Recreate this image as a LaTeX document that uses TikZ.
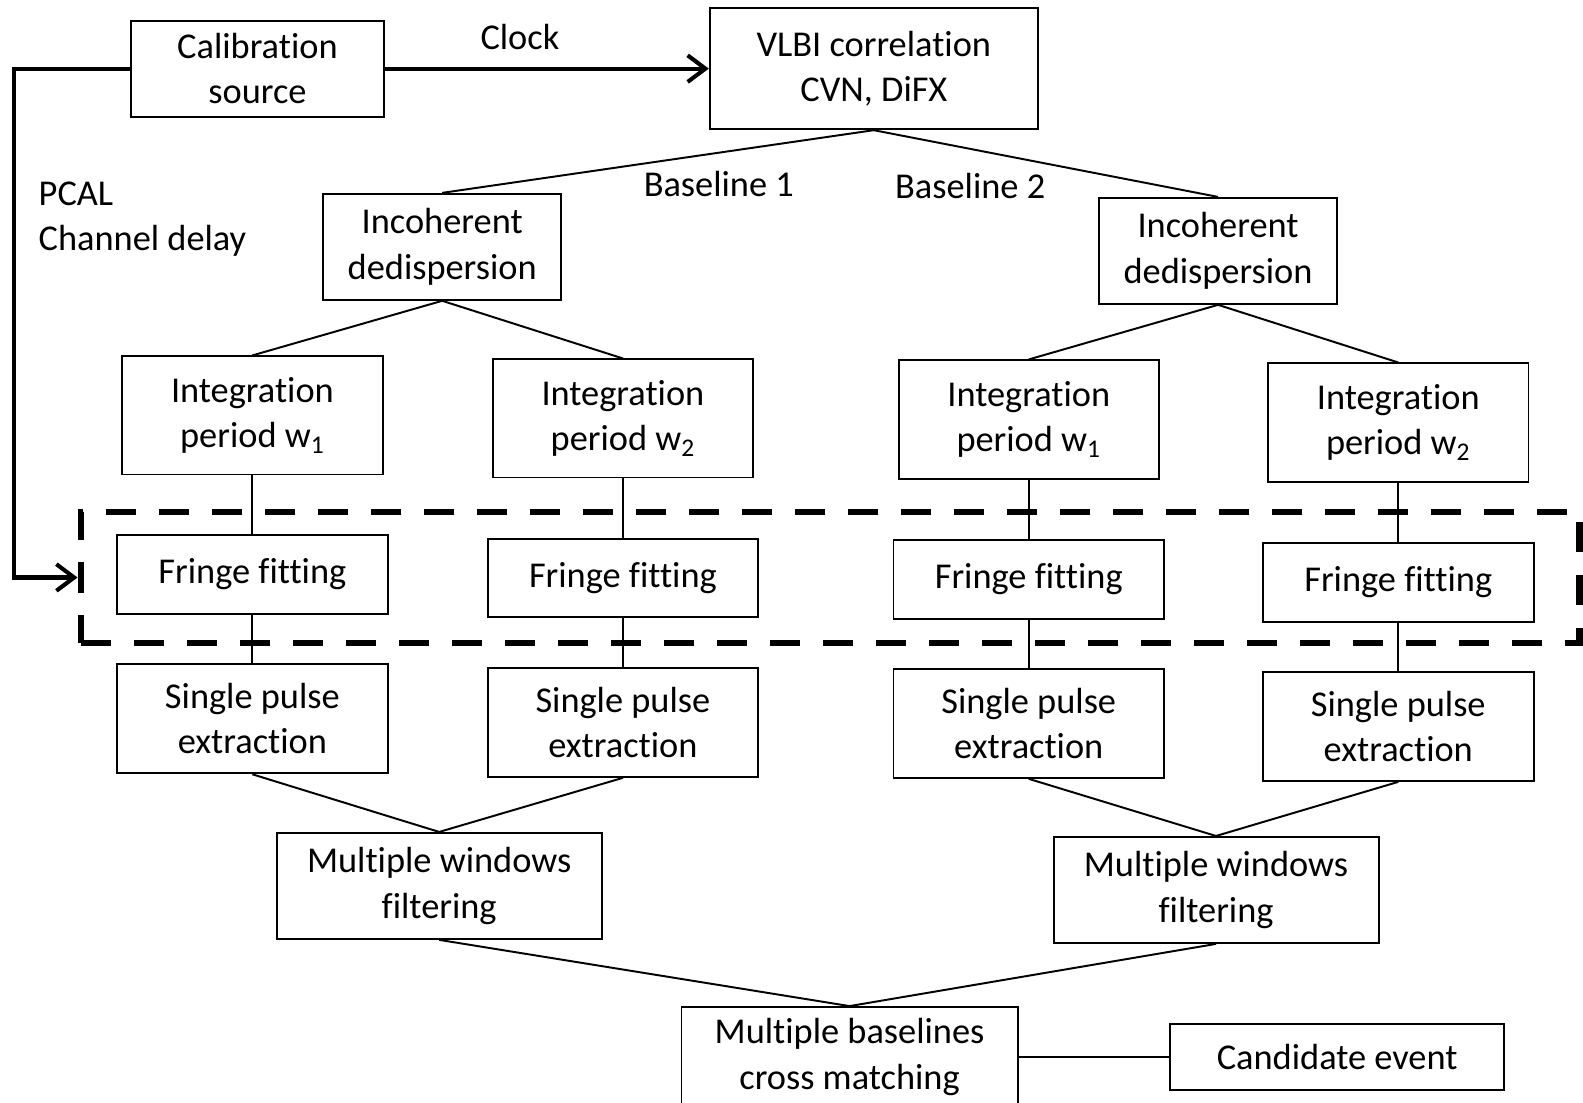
\documentclass[tikz,border=0pt]{standalone}
\usepackage{fontspec}
\setmainfont{Carlito}[Ligatures=NoCommon]
\usetikzlibrary{arrows.meta}

\tikzstyle{block}=[draw, rectangle, line width=1.1pt, align=center, text centered, inner sep=2pt]
\tikzstyle{spoj}=[line width=1.1pt]
\tikzstyle{sipka}=[line width=2.3pt, -{Straight Barb[length=10pt,width=15pt]}]

\begin{document}
\begin{tikzpicture}[x=0.02cm, y=-0.02cm, font=\fontsize{20.5}{25.5}\selectfont]
            \useasboundingbox (0,0) rectangle (1568,1092);

            % Definice bloků
            \node[block, minimum width=5cm, minimum height=1.9cm] (cal) at (255,68) {Calibration\\source};
            \node[block, minimum width=6.5cm, minimum height=2.4cm] (vlbi) at (865.5,68) {VLBI correlation\\CVN, DiFX};

            \node[block, minimum width=4.72cm, minimum height=2.1cm] (incL) at (438,244.5) {Incoherent\\dedispersion};
            \node[block, minimum width=4.72cm, minimum height=2.1cm] (incR) at (1206.5,248.5) {Incoherent\\dedispersion};

            \node[block, minimum width=5.16cm, minimum height=2.34cm] (intL1) at (250,411.5) {Integration\\period w\textsubscript{1}};
            \node[block, minimum width=5.16cm, minimum height=2.34cm] (intL2) at (617,414.5) {Integration\\period w\textsubscript{2}};
            \node[block, minimum width=5.16cm, minimum height=2.34cm] (intR1) at (1019,415.5) {Integration\\period w\textsubscript{1}};
            \node[block, minimum width=5.16cm, minimum height=2.34cm] (intR2) at (1385,418.5) {Integration\\period w\textsubscript{2}};

            \node[block, minimum width=5.36cm, minimum height=1.56cm] (ffL1) at (250,569) {Fringe fitting};
            \node[block, minimum width=5.36cm, minimum height=1.56cm] (ffL2) at (617,572.5) {Fringe fitting};
            \node[block, minimum width=5.36cm, minimum height=1.56cm] (ffR1) at (1019,574) {Fringe fitting};
            \node[block, minimum width=5.36cm, minimum height=1.56cm] (ffR2) at (1385,577) {Fringe fitting};

            \node[block, minimum width=5.36cm, minimum height=2.16cm] (spL1) at (250,712) {Single pulse\\extraction};
            \node[block, minimum width=5.36cm, minimum height=2.16cm] (spL2) at (617,715.5) {Single pulse\\extraction};
            \node[block, minimum width=5.36cm, minimum height=2.16cm] (spR1) at (1019,716.5) {Single pulse\\extraction};
            \node[block, minimum width=5.36cm, minimum height=2.16cm] (spR2) at (1385,719.5) {Single pulse\\extraction};

            \node[block, minimum width=6.44cm, minimum height=2.1cm] (mwfL) at (435,877.5) {Multiple windows\\filtering};
            \node[block, minimum width=6.44cm, minimum height=2.1cm] (mwfR) at (1204.5,881.5) {Multiple windows\\filtering};

            \node[block, minimum width=6.66cm, minimum height=1.98cm] (mbcm) at (841.5,1047) {Multiple baselines\\cross matching};
            \node[block, minimum width=6.62cm, minimum height=1.32cm] (cand) at (1324.5,1047) {Candidate event};

            % Rámeček kolem fringe fitting
            \node[draw, line width=3.8pt, dash pattern=on 0.6cm off 0.45cm, minimum width=29.7cm, minimum height=2.6cm] (fitbox) at (822.5,572) {};

            % Popisky
            \node (clock) at (515,37) {Clock};
            \node (bl1) at (712,182) {Baseline 1};
            \node (bl2) at (961,184) {Baseline 2};
            \node[align=left, anchor=west, inner sep=0pt] (pcal) at (38,217) {PCAL\\Channel delay};

            % Šipky
            \draw[sipka] (cal.east) -- (vlbi.west);
            \draw[sipka] (cal.west) -- ++(-115,0) |- (fitbox.west);

            % Spojnice mezi bloky
            \draw[spoj] (incL.north) -- (vlbi.south) -- (incR.north);
            \draw[spoj] (intL1.north) -- (incL.south) -- (intL2.north);
            \draw[spoj] (intR1.north) -- (incR.south) -- (intR2.north);
            \draw[spoj] (intL1) -- (ffL1);
            \draw[spoj] (intL2) -- (ffL2);
            \draw[spoj] (intR1) -- (ffR1);
            \draw[spoj] (intR2) -- (ffR2);
            \draw[spoj] (ffL1) -- (spL1);
            \draw[spoj] (ffL2) -- (spL2);
            \draw[spoj] (ffR1) -- (spR1);
            \draw[spoj] (ffR2) -- (spR2);
            \draw[spoj] (spL1.south) -- (mwfL.north) -- (spL2.south);
            \draw[spoj] (spR1.south) -- (mwfR.north) -- (spR2.south);
            \draw[spoj] (mwfL.south) -- (mbcm.north) -- (mwfR.south);
            \draw[spoj] (mbcm) -- (cand);
        \end{tikzpicture}
\end{document}
